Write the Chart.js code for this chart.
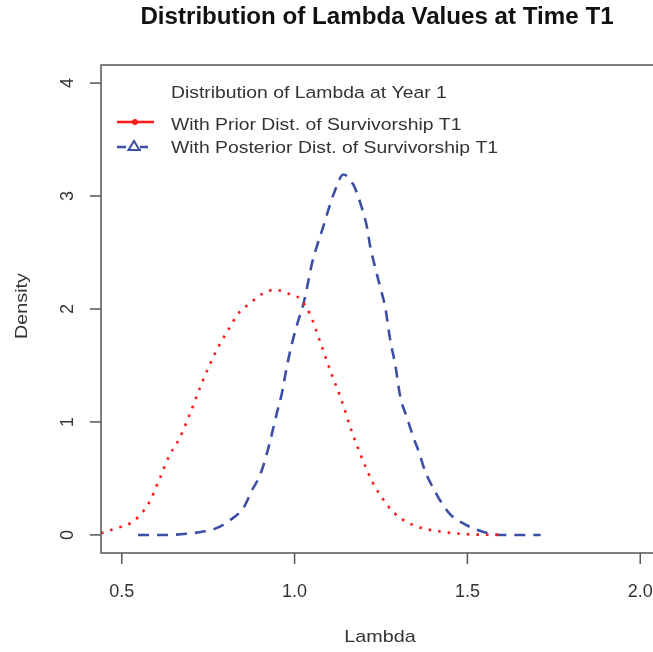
<!DOCTYPE html>
<html>
<head>
<meta charset="utf-8">
<title>Distribution of Lambda Values at Time T1</title>
<script src="https://cdn.jsdelivr.net/npm/chart.js@4.4.1/dist/chart.umd.min.js"></script>
<style>
    html, body { margin: 0; padding: 0; background: #fff; overflow: hidden; }
    #wrap { width: 653px; height: 652px; overflow: hidden; }
</style>
</head>
<body>
<div id="wrap">
    <canvas id="myChart" width="668" height="652"></canvas>
</div>
<script>
    const chartTitle = 'Distribution of Lambda Values at Time T1';
    const xLabel = 'Lambda';
    const yLabel = 'Density';
    const legendTitle = 'Distribution of Lambda at Year 1';
    const seriesNames = ['With Prior Dist. of Survivorship T1', 'With Posterior Dist. of Survivorship T1'];

    const xTicks = [0.5, 1.0, 1.5, 2.0];
    const yTicks = [0, 1, 2, 3, 4];

    // prior (red, dotted)
    const priorX = [0.44, 0.485, 0.533, 0.576, 0.61, 0.639, 0.668, 0.697, 0.726, 0.755, 0.784, 0.813, 0.837, 0.871, 0.91, 0.943, 0.987, 1.016, 1.045, 1.075, 1.105, 1.135, 1.165, 1.195, 1.225, 1.255, 1.28, 1.306, 1.354, 1.422, 1.5, 1.596];
    const priorY = [0.015, 0.06, 0.12, 0.27, 0.50, 0.71, 0.86, 1.07, 1.30, 1.51, 1.69, 1.84, 1.96, 2.05, 2.14, 2.17, 2.13, 2.09, 1.95, 1.70, 1.44, 1.20, 0.92, 0.68, 0.47, 0.32, 0.22, 0.15, 0.074, 0.03, 0.006, 0.0];

    // posterior (blue, dashed)
    const postX = [0.547, 0.63, 0.687, 0.736, 0.774, 0.813, 0.852, 0.876, 0.9, 0.919, 0.934, 0.948, 0.963, 0.977, 0.992, 1.011, 1.026, 1.04, 1.05, 1.064, 1.083, 1.098, 1.117, 1.141, 1.17, 1.19, 1.209, 1.219, 1.233, 1.248, 1.262, 1.277, 1.291, 1.306, 1.325, 1.344, 1.359, 1.378, 1.402, 1.422, 1.451, 1.489, 1.538, 1.596, 1.712];
    const postY = [0.0, 0.0, 0.01, 0.03, 0.06, 0.13, 0.24, 0.39, 0.53, 0.71, 0.89, 1.07, 1.25, 1.48, 1.69, 1.90, 2.05, 2.25, 2.40, 2.55, 2.73, 2.88, 3.05, 3.19, 3.10, 2.94, 2.73, 2.55, 2.37, 2.19, 2.02, 1.72, 1.51, 1.22, 1.04, 0.86, 0.74, 0.56, 0.41, 0.30, 0.18, 0.10, 0.035, 0.0, 0.0];

    const red = '#ff1a1a';
    const blue = '#3c4ea6';
    const axisColor = '#555';
    const textColor = '#333';
    const font = '"Liberation Sans", Arial, sans-serif';

    const toPoints = (xs, ys) => xs.map((x, i) => ({ x: x, y: ys[i] }));

    // the source text is a bit wider than Liberation Sans, so stretch it sideways
    const wideText = (ctx, text, x, y, sx, angle) => {
        ctx.save();
        ctx.translate(x, y);
        if (angle) ctx.rotate(angle);
        ctx.scale(sx, 1);
        ctx.fillText(text, 0, 0);
        ctx.restore();
    };

    // R style axes, labels and legend drawn around the plot area
    const rStyle = {
        id: 'rStyle',
        afterDraw(chart) {
            const ctx = chart.ctx;
            const area = chart.chartArea;
            const xs = chart.scales.x;
            const ys = chart.scales.y;

            ctx.save();
            ctx.strokeStyle = axisColor;
            ctx.lineWidth = 1.5;
            ctx.setLineDash([]);
            ctx.strokeRect(area.left, area.top, area.right - area.left, area.bottom - area.top);

            ctx.fillStyle = textColor;
            ctx.font = '18px ' + font;
            ctx.textAlign = 'center';
            ctx.textBaseline = 'middle';
            xTicks.forEach(v => {
                const px = xs.getPixelForValue(v);
                ctx.beginPath();
                ctx.moveTo(px, area.bottom);
                ctx.lineTo(px, area.bottom + 11);
                ctx.stroke();
                ctx.fillText(v.toFixed(1), px, area.bottom + 39);
            });
            yTicks.forEach(v => {
                const py = ys.getPixelForValue(v);
                ctx.beginPath();
                ctx.moveTo(area.left, py);
                ctx.lineTo(area.left - 11, py);
                ctx.stroke();
                wideText(ctx, String(v), area.left - 33, py, 1, -Math.PI / 2);
            });

            // axis titles
            ctx.font = '17px ' + font;
            wideText(ctx, xLabel, 380, 637, 1.16);
            wideText(ctx, yLabel, 22, 306, 1.16, -Math.PI / 2);

            // main title
            ctx.fillStyle = '#111';
            ctx.font = 'bold 23px ' + font;
            wideText(ctx, chartTitle, 377, 18, 1.05);

            // legend
            ctx.fillStyle = textColor;
            ctx.font = '16.7px ' + font;
            ctx.textAlign = 'left';
            wideText(ctx, legendTitle, 171, 93, 1.16);
            wideText(ctx, seriesNames[0], 171, 125, 1.16);
            wideText(ctx, seriesNames[1], 171, 148, 1.16);

            ctx.lineWidth = 2.5;
            ctx.strokeStyle = red;
            ctx.beginPath();
            ctx.moveTo(117, 122);
            ctx.lineTo(154, 122);
            ctx.stroke();
            ctx.fillStyle = red;
            ctx.beginPath();
            ctx.arc(135, 122, 3, 0, Math.PI * 2);
            ctx.fill();

            ctx.strokeStyle = blue;
            ctx.beginPath();
            ctx.moveTo(117, 147);
            ctx.lineTo(126, 147);
            ctx.moveTo(140, 147);
            ctx.lineTo(148, 147);
            ctx.stroke();
            ctx.lineWidth = 2;
            ctx.fillStyle = '#fff';
            ctx.beginPath();
            ctx.moveTo(134, 141);
            ctx.lineTo(139.5, 150);
            ctx.lineTo(128.5, 150);
            ctx.closePath();
            ctx.fill();
            ctx.stroke();
            ctx.beginPath();
            ctx.moveTo(128.5, 150);
            ctx.lineTo(141, 150);
            ctx.stroke();
            ctx.restore();
        }
    };

    const ctx = document.getElementById('myChart').getContext('2d');
    const myChart = new Chart(ctx, {
        type: 'line',
        data: {
            datasets: [
                {
                    label: seriesNames[0],
                    data: toPoints(priorX, priorY),
                    borderColor: red,
                    borderWidth: 2.6,
                    borderDash: [2.6, 7],
                    pointRadius: 0,
                    fill: false,
                    cubicInterpolationMode: 'monotone'
                },
                {
                    label: seriesNames[1],
                    data: toPoints(postX, postY),
                    borderColor: blue,
                    borderWidth: 2.6,
                    borderDash: [11, 8],
                    pointRadius: 0,
                    fill: false,
                    cubicInterpolationMode: 'monotone'
                }
            ]
        },
        options: {
            responsive: false,
            animation: false,
            devicePixelRatio: 1,
            layout: { padding: { left: 101, top: 65, right: 7, bottom: 99 } },
            plugins: {
                legend: { display: false },
                title: { display: false },
                tooltip: { enabled: false }
            },
            scales: {
                x: { type: 'linear', min: 0.44, max: 2.06, display: false },
                y: { type: 'linear', min: -0.16, max: 4.16, display: false }
            }
        },
        plugins: [rStyle]
    });
</script>
</body>
</html>
